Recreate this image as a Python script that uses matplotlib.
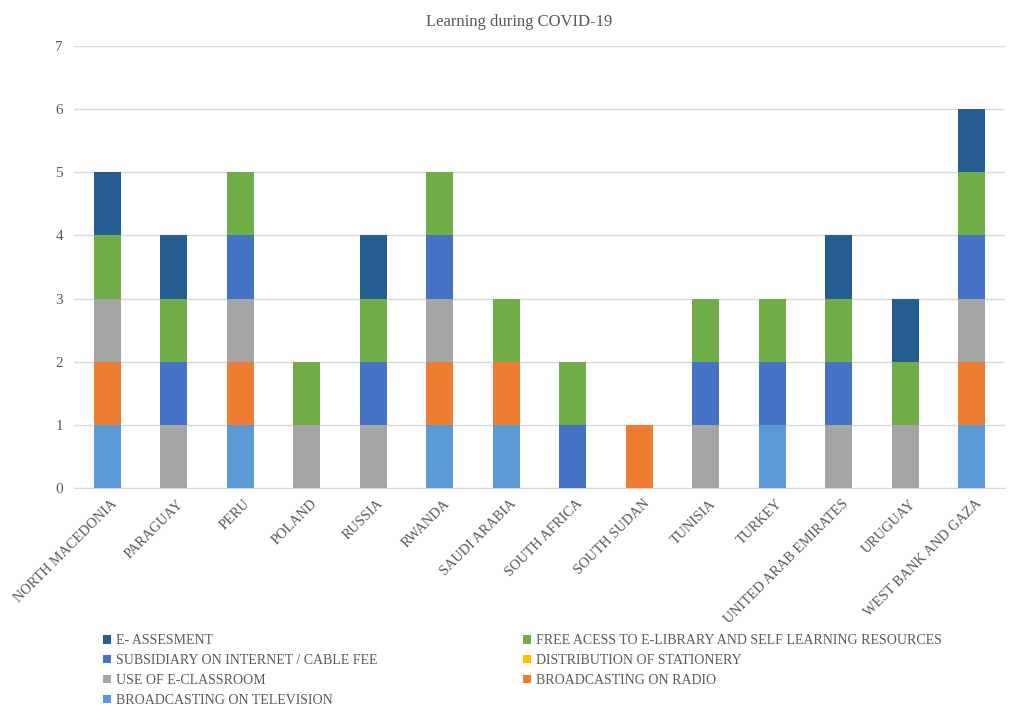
import matplotlib
matplotlib.use("Agg")
import matplotlib.pyplot as plt
import matplotlib.transforms as mtransforms
import numpy as np

plt.rcParams['font.family'] = ['Liberation Serif', 'DejaVu Serif']

countries = ["NORTH MACEDONIA", "PARAGUAY", "PERU", "POLAND", "RUSSIA", "RWANDA",
             "SAUDI ARABIA", "SOUTH AFRICA", "SOUTH SUDAN", "TUNISIA", "TURKEY",
             "UNITED ARAB EMIRATES", "URUGUAY", "WEST BANK AND GAZA"]

television = [1, 0, 1, 0, 0, 1, 1, 0, 0, 0, 1, 0, 0, 1]
radio      = [1, 0, 1, 0, 0, 1, 1, 0, 1, 0, 0, 0, 0, 1]
eclassroom = [1, 1, 1, 1, 1, 1, 0, 0, 0, 1, 0, 1, 1, 1]
stationery = [0, 0, 0, 0, 0, 0, 0, 0, 0, 0, 0, 0, 0, 0]
subsidy    = [0, 1, 1, 0, 1, 1, 0, 1, 0, 1, 1, 1, 0, 1]
freeaccess = [1, 1, 1, 1, 1, 1, 1, 1, 0, 1, 1, 1, 1, 1]
eassess    = [1, 1, 0, 0, 1, 0, 0, 0, 0, 0, 0, 1, 1, 1]

series = [
    ("BROADCASTING ON TELEVISION", television, "#5B9BD5"),
    ("BROADCASTING ON RADIO", radio, "#ED7D31"),
    ("USE OF E-CLASSROOM", eclassroom, "#A5A5A5"),
    ("DISTRIBUTION OF STATIONERY", stationery, "#FFC000"),
    ("SUBSIDIARY ON INTERNET / CABLE FEE", subsidy, "#4472C4"),
    ("FREE ACESS TO E-LIBRARY AND SELF LEARNING RESOURCES", freeaccess, "#70AD47"),
    ("E- ASSESMENT", eassess, "#255E91"),
]

fig = plt.figure(figsize=(10.09, 7.07), dpi=100)
ax = fig.add_axes([74/1009, 1-488/707, (1005-74)/1009, (488-46)/707])

x = np.arange(len(countries))
bottom = np.zeros(len(countries))
handles = {}
for name, vals, col in series:
    v = np.array(vals, dtype=float)
    b = ax.bar(x, v, 0.41, bottom=bottom, color=col, label=name, zorder=3)
    handles[name] = b
    bottom += v

ax.set_ylim(0, 7)
ax.set_xlim(-0.5, len(countries) - 0.5)
ax.set_yticks(range(0, 8))
ax.yaxis.grid(True, color="#D9D9D9", linewidth=1, zorder=0)
for s in ["top", "right", "left"]:
    ax.spines[s].set_visible(False)
ax.spines["bottom"].set_color("#D9D9D9")
ax.tick_params(axis="both", length=0, colors="#595959")
ax.tick_params(axis="y", pad=8, labelsize=11)
ax.set_xticks(x)
ax.set_xticklabels(countries, rotation=45, ha="right", va="center",
                   rotation_mode="anchor", fontsize=10.3)
ax.tick_params(axis="x", pad=10)
offset = mtransforms.ScaledTranslation(8/100, 0, fig.dpi_scale_trans)
for lbl in ax.get_xticklabels():
    lbl.set_transform(lbl.get_transform() + offset)

fig.text(519/1009, 1-22/707, "Learning during COVID-19", ha="center", va="center",
         fontsize=12, color="#595959")

order1 = ["E- ASSESMENT", "SUBSIDIARY ON INTERNET / CABLE FEE", "USE OF E-CLASSROOM",
          "BROADCASTING ON TELEVISION"]
order2 = ["FREE ACESS TO E-LIBRARY AND SELF LEARNING RESOURCES",
          "DISTRIBUTION OF STATIONERY", "BROADCASTING ON RADIO"]

common = dict(frameon=False, fontsize=10, handlelength=0.6, handleheight=0.6,
              handletextpad=0.3, labelspacing=0.5, borderaxespad=0, borderpad=0,
              labelcolor="#595959")
leg1 = fig.legend([handles[n] for n in order1], order1, loc="upper left",
                  bbox_to_anchor=(103/1009, 1-634/707), **common)
leg2 = fig.legend([handles[n] for n in order2], order2, loc="upper left",
                  bbox_to_anchor=(523/1009, 1-634/707), **common)

fig.savefig("out.png", dpi=100)
